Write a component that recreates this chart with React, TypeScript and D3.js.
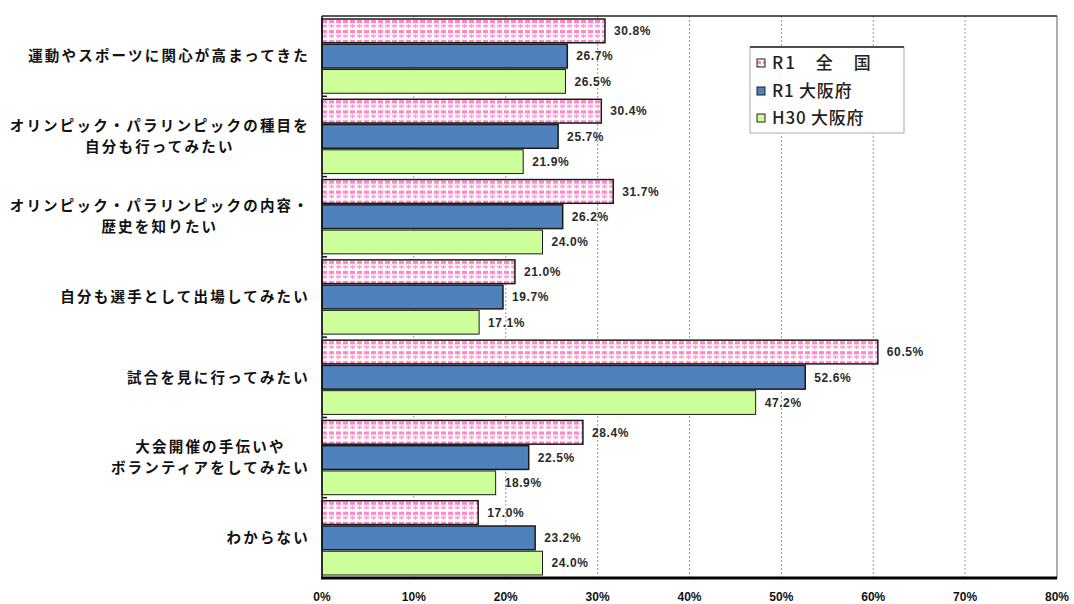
import React, { useEffect, useRef } from "react";
import * as d3 from "d3";

const categories: string[][] = [
  ["運動やスポーツに関心が高まってきた"],
  ["オリンピック・パラリンピックの種目を", "自分も行ってみたい"],
  ["オリンピック・パラリンピックの内容・", "歴史を知りたい"],
  ["自分も選手として出場してみたい"],
  ["試合を見に行ってみたい"],
  ["大会開催の手伝いや", "ボランティアをしてみたい"],
  ["わからない"],
];
const seriesNames = ["R1　全　国", "R1 大阪府", "H30 大阪府"];
const r1National = [30.8, 30.4, 31.7, 21.0, 60.5, 28.4, 17.0];
const r1Osaka = [26.7, 25.7, 26.2, 19.7, 52.6, 22.5, 23.2];
const h30Osaka = [26.5, 21.9, 24.0, 17.1, 47.2, 18.9, 24.0];
const xTicks = [0, 10, 20, 30, 40, 50, 60, 70, 80];

export default function App() {
  const ref = useRef<SVGSVGElement>(null);
  useEffect(() => {
    const svg = d3.select(ref.current);
    svg.selectAll("*").remove();
    const left = 322, right = 1057, top = 16, bottom = 578;
    const series = [r1National, r1Osaka, h30Osaka];
    const fills = ["url(#pinkPat)", "#4f81bd", "#ccff99"];

    const defs = svg.append("defs");
    const pat = defs.append("pattern").attr("id", "pinkPat").attr("patternUnits", "userSpaceOnUse")
      .attr("width", 7).attr("height", 10);
    pat.append("rect").attr("width", 7).attr("height", 10).attr("fill", "#ffffff");
    pat.append("rect").attr("x", 0).attr("y", 1).attr("width", 5).attr("height", 3).attr("fill", "#ff88c4");
    pat.append("rect").attr("x", 0).attr("y", 6).attr("width", 5).attr("height", 2).attr("fill", "#ffa8d4");
    pat.append("rect").attr("x", 2).attr("y", 5).attr("width", 1).attr("height", 4).attr("fill", "#ff94cc");
    pat.append("rect").attr("x", 0).attr("y", 4.5).attr("width", 7).attr("height", 0.8).attr("fill", "#ffd0e8");

    const x = d3.scaleLinear().domain([0, 80]).range([left, right]);
    const y0 = d3.scaleBand<number>().domain(d3.range(categories.length)).range([top, bottom])
      .paddingInner(0.075).paddingOuter(0.0375);
    const y1 = d3.scaleBand<number>().domain([0, 1, 2]).range([0, y0.bandwidth()]).paddingInner(0.06);

    // gridlines
    svg.append("g").selectAll("line").data(xTicks.filter(t => t > 0 && t < 80)).join("line")
      .attr("x1", d => x(d)).attr("x2", d => x(d)).attr("y1", top).attr("y2", bottom)
      .attr("stroke", "#9a9a9a").attr("stroke-width", 1).attr("stroke-dasharray", "2,2");
    svg.append("line").attr("x1", x(80)).attr("x2", x(80)).attr("y1", top).attr("y2", bottom)
      .attr("stroke", "#777").attr("stroke-width", 1.2);
    svg.append("line").attr("x1", left).attr("x2", right).attr("y1", top).attr("y2", top)
      .attr("stroke", "#222").attr("stroke-width", 1.5);

    // legend
    const lg = svg.append("g");
    lg.append("rect").attr("x", 750).attr("y", 47).attr("width", 154).attr("height", 86)
      .attr("fill", "#fff").attr("stroke", "#aaa").attr("stroke-width", 1);
    lg.append("line").attr("x1", 750).attr("x2", 904).attr("y1", 47).attr("y2", 47)
      .attr("stroke", "#222").attr("stroke-width", 1.5);
    const legendY = [63, 91, 118];
    seriesNames.forEach((name, i) => {
      lg.append("rect").attr("x", 757).attr("y", legendY[i] - 4).attr("width", 8).attr("height", 8)
        .attr("fill", fills[i]).attr("stroke", "#222").attr("stroke-width", 1);
      lg.append("text").attr("x", 772).attr("y", legendY[i]).attr("dy", "0.36em")
        .attr("font-family", "'Noto Sans CJK JP', sans-serif").attr("font-size", 17)
        .attr("font-weight", 500)
        .attr("fill", "#222").attr("letter-spacing", i === 0 ? 2 : 0.8).text(name);
    });

    // bars
    const groups = svg.append("g").selectAll("g").data(categories.map((_, i) => i)).join("g")
      .attr("transform", i => `translate(0,${y0(i)})`);
    series.forEach((vals, s) => {
      groups.append("rect")
        .attr("x", left).attr("y", y1(s)!)
        .attr("width", i => x(vals[i]) - left).attr("height", y1.bandwidth())
        .attr("fill", fills[s]).attr("stroke", "#1a1a1a").attr("stroke-width", s === 2 ? 1 : 1.5);
      groups.append("text")
        .attr("x", i => x(vals[i]) + 9).attr("y", y1(s)! + y1.bandwidth() / 2).attr("dy", "0.36em")
        .attr("font-family", "'Liberation Sans', Arial, sans-serif").attr("font-size", 12)
        .attr("font-weight", "bold").attr("fill", "#2a2a2a").attr("letter-spacing", 0.6)
        .text(i => vals[i].toFixed(1) + "%");
    });

    // left axis + ticks
    svg.append("line").attr("x1", left).attr("x2", left).attr("y1", top).attr("y2", bottom)
      .attr("stroke", "#111").attr("stroke-width", 1.5);
    svg.append("g").selectAll("line").data(d3.range(1, categories.length)).join("line")
      .attr("x1", left).attr("x2", left + 5)
      .attr("y1", i => top + (bottom - top) * i / categories.length)
      .attr("y2", i => top + (bottom - top) * i / categories.length)
      .attr("stroke", "#111").attr("stroke-width", 1.5);
    // bottom axis
    svg.append("line").attr("x1", left - 1).attr("x2", right).attr("y1", bottom).attr("y2", bottom)
      .attr("stroke", "#000").attr("stroke-width", 3);
    svg.append("g").selectAll("text").data(xTicks).join("text")
      .attr("x", d => x(d)).attr("y", 597).attr("text-anchor", "middle").attr("dy", "0.36em")
      .attr("font-family", "'Liberation Sans', Arial, sans-serif").attr("font-size", 12)
      .attr("font-weight", "bold").attr("fill", "#111").text(d => d + "%");

    // category labels
    const labelRight = 310;
    categories.forEach((lines, i) => {
      const cy = y0(i)! + y0.bandwidth() / 2;
      const g = svg.append("g");
      const lh = 21;
      const texts = lines.map((ln, k) =>
        g.append("text")
          .attr("y", cy + (k - (lines.length - 1) / 2) * lh).attr("dy", "0.36em")
          .attr("font-family", "'Noto Sans CJK JP', sans-serif").attr("font-size", 14.5)
          .attr("font-weight", "bold").attr("fill", "#111").attr("letter-spacing", 2.2)
          .attr("text-anchor", "middle").text(ln)
      );
      const widths = texts.map(t => (t.node() as SVGTextElement).getComputedTextLength());
      const maxW = Math.max(...widths);
      texts.forEach(t => t.attr("x", labelRight - maxW / 2));
    });
  }, []);
  return (
    <svg ref={ref} width={1074} height={604}
      style={{ position: "absolute", left: 0, top: 0, background: "#fff" }} />
  );
}
